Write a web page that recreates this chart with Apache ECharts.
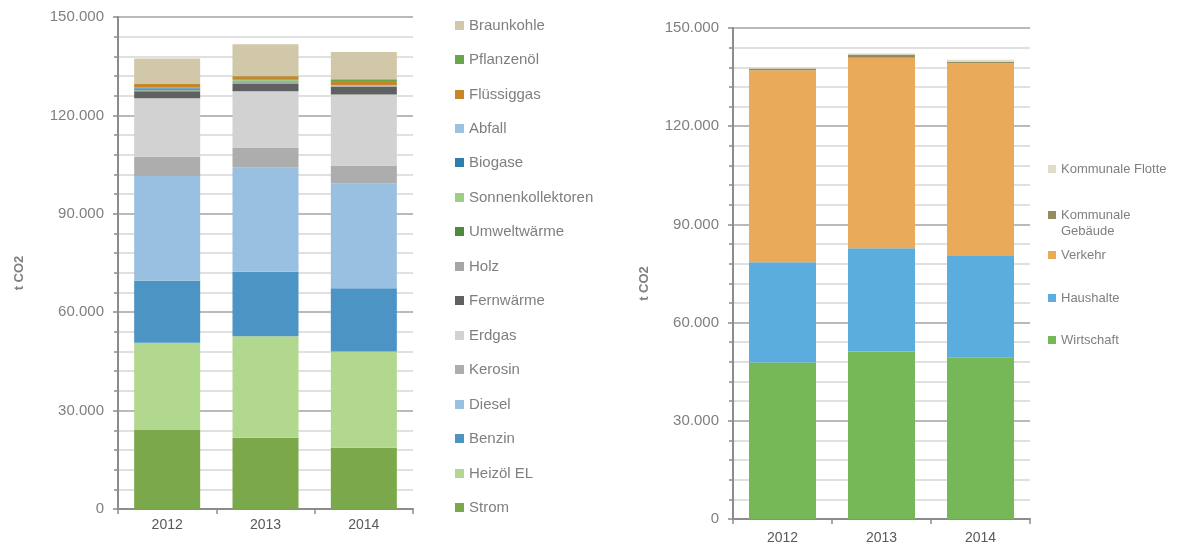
<!DOCTYPE html>
<html>
<head>
<meta charset="utf-8">
<script src="https://cdn.jsdelivr.net/npm/echarts@6/dist/echarts.min.js"></script>
<style>
html,body{margin:0;padding:0;background:#fff;}
#chart{width:1181px;height:547px;}
</style>
</head>
<body>
<div id="chart"></div>
<script>
// ---------- DATA ----------
const years = ['2012', '2013', '2014'];
const yTicks = [0, 30000, 60000, 90000, 120000, 150000];
const axisTitle = 't CO2';

// Left chart: by energy carrier (t CO2), bottom to top of stack
const strom        = [24100, 21700, 18700];
const heizoelEL    = [26600, 31000, 29300];
const benzin       = [18900, 19600, 19300];
const diesel       = [31900, 31900, 32000];
const kerosin      = [5900, 6000, 5400];
const erdgas       = [17800, 17200, 21700];
const fernwaerme   = [2200, 2200, 2300];
const holz         = [300, 800, 400];
const umweltwaerme = [50, 100, 50];
const sonnenkoll   = [100, 300, 50];
const biogase      = [400, 50, 0];
const abfall       = [200, 50, 0];
const fluessiggas  = [1200, 1000, 1300];
const pflanzenoel  = [100, 100, 500];
const braunkohle   = [7600, 9700, 8300];

// Right chart: by sector (t CO2), bottom to top of stack
const wirtschaft      = [47800, 51200, 49400];
const haushalte       = [30600, 31500, 31200];
const verkehr         = [58700, 58200, 58600];
const kommGebaeude    = [500, 1000, 400];
const kommFlotte      = [300, 300, 700];

const leftNames = ['Strom','Heizöl EL','Benzin','Diesel','Kerosin','Erdgas','Fernwärme','Holz','Umweltwärme','Sonnenkollektoren','Biogase','Abfall','Flüssiggas','Pflanzenöl','Braunkohle'];
const leftData  = [strom,heizoelEL,benzin,diesel,kerosin,erdgas,fernwaerme,holz,umweltwaerme,sonnenkoll,biogase,abfall,fluessiggas,pflanzenoel,braunkohle];
const rightNames = ['Wirtschaft','Haushalte','Verkehr','Kommunale Gebäude','Kommunale Flotte'];
const rightData  = [wirtschaft,haushalte,verkehr,kommGebaeude,kommFlotte];

// ---------- STYLE ----------
const leftColors = ['#7aa84a','#b2d78f','#4b94c4','#99c0e0','#adadae','#d1d2d1','#5f6062','#a6a6a6','#4f8a3a','#9ccf85','#2b7fab','#9ac3e3','#c8862a','#67a64a','#d0c8a8'];
const rightColors = ['#76b757','#5aaddc','#e9aa5a','#948c5e','#e0ddcb'];
// legend text centre y positions (layout only)
const leftLegendY = [509,475,440,406,371,337,302,268,233,199,164,130,96,61,27];
const rightLegendY = [340,298,255,214,169];

const txt = '#7f7f7f';
const fmt = v => String(v).replace(/\B(?=(\d{3})+(?!\d))/g, '.');

function yAxis(gridIndex, gap){
  return {
    type:'value', gridIndex, min:0, max:150000, interval:30000,
    name: axisTitle, nameLocation:'middle', nameGap:gap, nameRotate:90,
    nameTextStyle:{color:txt, fontSize:13, fontWeight:'bold', padding:[0,20,0,0], fontFamily:'Liberation Sans, Arial, sans-serif'},
    axisLine:{show:true, lineStyle:{color:'#8c8c8c', width:2}},
    axisTick:{show:true, length:5, lineStyle:{color:'#8c8c8c', width:1.5}},
    minorTick:{show:true, splitNumber:5, length:4, lineStyle:{color:'#8c8c8c', width:1.5}},
    axisLabel:{color:txt, fontSize:15, margin:14, fontFamily:'Liberation Sans, Arial, sans-serif', formatter: fmt},
    splitLine:{show:true, lineStyle:{color:'#a3a3a3', width:1.5}},
    minorSplitLine:{show:true, lineStyle:{color:'#d6d6d6', width:1.5}}
  };
}
function xAxis(gridIndex, margin){
  return {
    type:'category', gridIndex, data: years,
    axisLine:{show:true, lineStyle:{color:'#8c8c8c', width:2}},
    axisTick:{show:true, length:5, lineStyle:{color:'#8c8c8c', width:1.5}},
    axisLabel:{color:'#595959', fontSize:14, margin, fontFamily:'Liberation Sans, Arial, sans-serif'}
  };
}

const series = [];
const legends = [];
leftNames.forEach((n,i)=>{
  series.push({name:n, type:'bar', stack:'L', xAxisIndex:0, yAxisIndex:0, barWidth:66,
    data:leftData[i], itemStyle:{color:leftColors[i]}, emphasis:{disabled:true}});
  legends.push({data:[n], orient:'vertical', left:455, top:leftLegendY[i]-9, padding:0,
    itemWidth:9, itemHeight:9, icon:'rect', selectedMode:false,
    textStyle:{color:txt, fontSize:15, fontFamily:'Liberation Sans, Arial, sans-serif'}});
});
rightNames.forEach((n,i)=>{
  series.push({name:n, type:'bar', stack:'R', xAxisIndex:1, yAxisIndex:1, barWidth:67,
    data:rightData[i], itemStyle:{color:rightColors[i]}, emphasis:{disabled:true}});
  const multi = n.length > 16 && n.indexOf(' ') > 0 && n !== 'Kommunale Flotte';
  legends.push({data:[n], orient:'vertical', left:1048, top: multi ? rightLegendY[i]-23 : rightLegendY[i]-8, padding:0,
    itemWidth:8, itemHeight:8, icon:'rect', selectedMode:false,
    formatter: multi ? (name => '\u00a0\n' + name.replace(' ', '\n')) : (name => name),
    textStyle:{color:txt, fontSize:13, lineHeight:16, fontFamily:'Liberation Sans, Arial, sans-serif'}});
});

const chart = echarts.init(document.getElementById('chart'), null, {renderer:'canvas'});
chart.setOption({
  animation:false,
  backgroundColor:'#fff',
  grid:[
    {left:118, top:17, width:295, height:492},
    {left:733, top:28, width:297, height:491}
  ],
  xAxis:[xAxis(0, 9), xAxis(1, 12)],
  yAxis:[yAxis(0, 92), yAxis(1, 82)],
  legend: legends,
  series
});
</script>
</body>
</html>
